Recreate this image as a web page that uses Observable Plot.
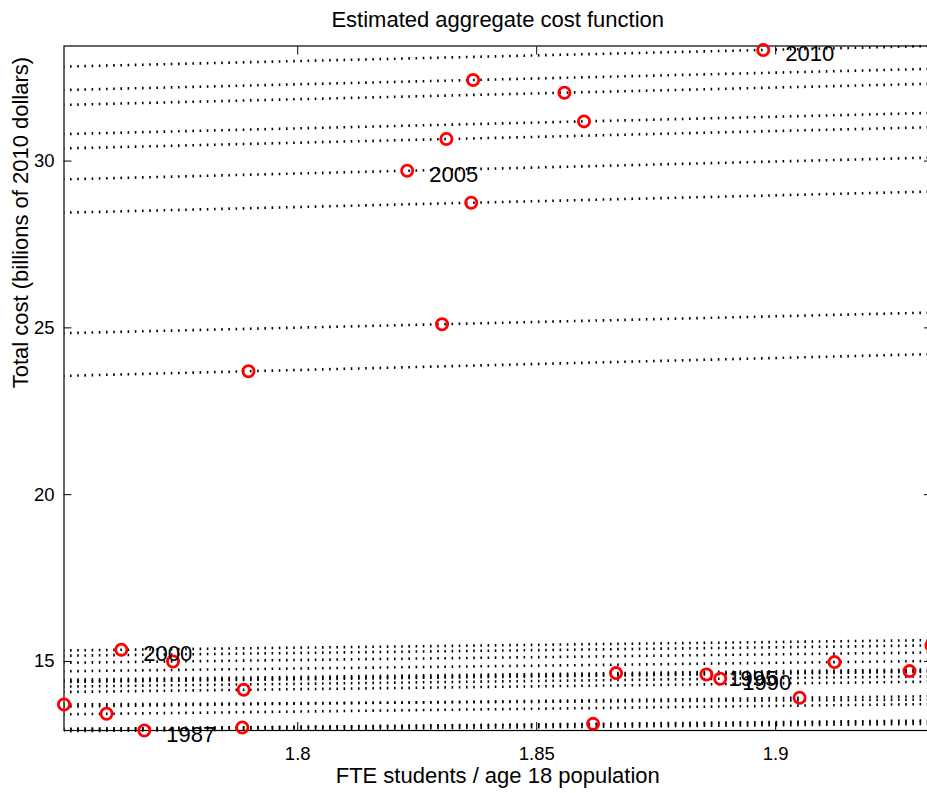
<!DOCTYPE html>
<html>
<head>
<meta charset="utf-8">
<script src="https://cdn.jsdelivr.net/npm/d3@7"></script>
<script src="https://cdn.jsdelivr.net/npm/@observablehq/plot@0.6"></script>
<style>
  html, body { margin: 0; padding: 0; background: white; overflow: hidden; }
  #chart svg { display: block; }
</style>
</head>
<body>
<div id="chart"></div>
<script>
// ---- data ----
const years = [1987,1988,1989,1990,1991,1992,1993,1994,1995,1996,1997,1998,1999,2000,2001,2002,2003,2004,2005,2006,2007,2008,2009,2010];
const fteRatio = [1.7679,1.7884,1.8618,1.8884,1.9050,1.9280,1.9326,1.9123,1.8855,1.8666,1.7887,1.7600,1.7511,1.7631,1.7739,1.7897,1.8302,1.8363,1.8229,1.8311,1.8599,1.8558,1.8367,1.8974];
const totalCost = [12.93,13.02,13.13,14.48,13.91,14.71,15.48,14.98,14.61,14.65,14.15,13.43,13.71,15.35,15.00,23.70,25.11,28.75,29.71,30.66,31.19,32.05,32.43,33.33];
// marginal cost (billions per unit of the ratio) = slope of each year's dotted cost line
const marginalCost = [1.2,1.2,1.4,1.7,1.7,1.7,1.7,1.7,1.7,1.7,1.7,1.7,0.8,1.7,1.7,3.6,3.4,3.5,3.6,3.5,3.5,3.5,3.5,3.4];
const labeledYears = [1987,1990,1995,2000,2005,2010];
const xTicks = [1.8,1.85,1.9];
const yTicks = [15,20,25,30];
const titleText = "Estimated aggregate cost function";
const xLabel = "FTE students / age 18 population";
const yLabel = "Total cost (billions of 2010 dollars)";

// ---- build tables ----
const xMin = d3.min(fteRatio), xMax = d3.max(fteRatio);
const points = years.map((year, i) => ({year, x: fteRatio[i], y: totalCost[i], m: marginalCost[i]}));
const lines = points.map(p => ({
  year: p.year,
  x1: xMin, y1: p.y + p.m * (xMin - p.x),
  x2: xMax, y2: p.y + p.m * (xMax - p.x)
}));
const yMin = d3.min(totalCost);
const yMax = d3.max(lines, d => Math.max(d.y1, d.y2));
const labels = points.filter(p => labeledYears.includes(p.year));

const font = "'Liberation Sans', Arial, Helvetica, sans-serif";

const chart = Plot.plot({
  width: 927,
  height: 793,
  marginLeft: 63.5,
  marginRight: -4,
  marginTop: 45.5,
  marginBottom: 63,
  style: {fontFamily: font, fontSize: "18px", background: "white", color: "black"},
  x: {domain: [xMin, xMax]},
  y: {domain: [yMin, yMax]},
  marks: [
    Plot.link(lines, {
      x1: "x1", y1: "y1", x2: "x2", y2: "y2",
      stroke: "black", strokeWidth: 2.6,
      strokeDasharray: "1.6,5.6", strokeDashoffset: 1.2
    }),
    Plot.frame({stroke: "black", strokeWidth: 1.2}),
    Plot.axisX(xTicks, {anchor: "bottom", tickSize: -8, tickPadding: 24, fontSize: 18.5, label: null, tickFormat: d => String(d)}),
    Plot.axisX(xTicks, {anchor: "top", tickSize: -8, label: null, tickFormat: () => ""}),
    Plot.axisY(yTicks, {anchor: "left", tickSize: -8, tickPadding: 17.5, fontSize: 18.5, label: null, tickFormat: d => String(d)}),
    Plot.axisY(yTicks, {anchor: "right", tickSize: -8, label: null, tickFormat: () => ""}),
    Plot.dot(points, {x: "x", y: "y", r: 5.6, stroke: "#ff0000", strokeWidth: 2.8, fill: "none"}),
    Plot.text(labels, {x: "x", y: "y", text: d => String(d.year), dx: 22, dy: 4, textAnchor: "start", lineAnchor: "middle", fontSize: 22, fill: "black"}),
    Plot.text([titleText], {frameAnchor: "top", lineAnchor: "middle", dy: -26, fontSize: 22, fill: "black"}),
    Plot.text([xLabel], {frameAnchor: "bottom", lineAnchor: "middle", dy: 45, fontSize: 22, fill: "black"}),
    Plot.text([yLabel], {frameAnchor: "left", lineAnchor: "middle", rotate: -90, dx: -43.5, fontSize: 22, fill: "black"})
  ]
});
document.getElementById("chart").append(chart);
</script>
</body>
</html>
